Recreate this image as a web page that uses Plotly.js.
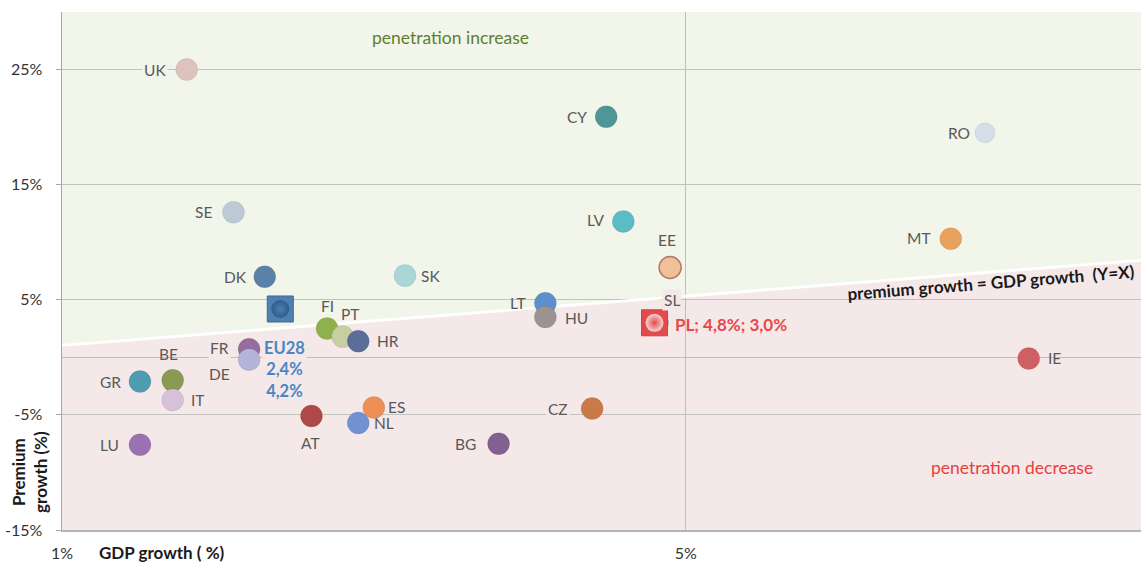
<!DOCTYPE html>
<html>
<head>
<meta charset="utf-8">
<script src="https://cdn.plot.ly/plotly-3.0.1.min.js"></script>
<style>
  html, body { margin: 0; padding: 0; background: #ffffff; }
  #chart { width: 1141px; height: 565px; }
</style>
</head>
<body>
<div id="chart"></div>
<script>
// ---------------- DATA ----------------
const countries = ["UK","CY","RO","SE","LV","MT","EE","DK","SK","LT","HU","SL","FI","PT","HR","FR","DE","IE","GR","BE","IT","AT","ES","CZ","NL","BG","LU"];
const gdpGrowth = [1.80, 4.49, 6.92, 2.10, 4.60, 6.70, 4.90, 2.30, 3.20, 4.10, 4.10, 4.82, 2.70, 2.80, 2.90, 2.20, 2.20, 7.20, 1.50, 1.71, 1.71, 2.60, 3.00, 4.40, 2.90, 3.80, 1.50];
const premiumGrowth = [25.0, 20.9, 19.5, 12.6, 11.8, 10.3, 7.8, 7.0, 7.1, 4.7, 3.5, 3.0, 2.5, 1.8, 1.4, 0.7, -0.2, -0.1, -2.1, -2.0, -3.7, -5.1, -4.35, -4.45, -5.7, -7.5, -7.6];

const eu28Name = "EU28";
const eu28Gdp = [2.4];
const eu28Premium = [4.2];

const plName = "PL";
const plGdp = [4.8];
const plPremium = [3.0];

// line "premium growth = GDP growth (Y=X)" as drawn in the picture
const diagX = [1, 7.92];
const diagY = [1.04, 8.43];

const xRange = [1, 7.92];
const yRange = [-15, 30];
const xTicks = [1, 5];
const xTickText = ["1%", "5%"];
const yTicks = [-15, -5, 5, 15, 25];
const yTickText = ["-15%", "-5%", "5%", "15%", "25%"];

// ---------------- STYLE ----------------
const markerColors = {
  UK:"#DDC3BB", CY:"#4F9699", RO:"#D5DEE8", SE:"#BDCAD6", LV:"#5ABCC6", MT:"#E9A15E",
  EE:"#F0C096", DK:"#5A82A8", SK:"#A9D7D8", LT:"#5C90CC", HU:"#9B9292", SL:"#9AA0A8",
  FI:"#8FB04E", PT:"#C7CFA2", HR:"#5B6E97", FR:"#986C9E", DE:"#B3B4D9", IE:"#CF5F62",
  GR:"#4D9CB1", BE:"#8B9A52", IT:"#D7C1D9", AT:"#AF4848", ES:"#EC9057", CZ:"#C97A48",
  NL:"#7291D0", BG:"#826091", LU:"#9A72B1"
};
// [xanchor, xshift, yshift(px, up positive), bg]
const labelSpec = {
  UK:["right",-19,0,true], CY:["right",-17,0,false], RO:["right",-13,0,false], SE:["right",-20,0,false],
  LV:["right",-16,2,false], MT:["right",-18,1,false], EE:["center",-3,28,false], DK:["right",-16,0,false],
  SK:["left",14,0,false], LT:["right",-17,0,false], HU:["left",18,-1,false], SL:["center",14,23,true],
  FI:["center",0,23,false], PT:["center",7,23,false], HR:["left",17,0,false], FR:["right",-18,1,true],
  DE:["right",-17,-14,false], IE:["left",17,0,false], GR:["right",-17,0,false], BE:["center",-4,26,false],
  IT:["left",16,0,false], AT:["center",-1,-27,false], ES:["left",12,0,false], CZ:["right",-22,0,true],
  NL:["left",14,0,false], BG:["right",-21,0,false], LU:["right",-19,0,false]
};
const greenBg = "#F1F5EA";
const pinkBg = "#F5E8E9";
const labelFont = {family: "Lato, 'Open Sans', sans-serif", size: 15.5, color: "#595959"};

function diagAt(x) {
  return diagY[0] + (diagY[1] - diagY[0]) * (x - diagX[0]) / (diagX[1] - diagX[0]);
}

// ---------------- TRACES ----------------
const traces = [];
traces.push({
  type: "scatter", mode: "lines", x: diagX, y: diagY,
  line: {color: "#FFFFFF", width: 2.8}, hoverinfo: "skip", showlegend: false
});
traces.push({
  type: "scatter", mode: "markers",
  x: gdpGrowth, y: premiumGrowth, text: countries,
  marker: {
    size: countries.map(c => c === "RO" ? 20 : 22),
    color: countries.map(c => markerColors[c]),
    line: {color: countries.map(c => c === "EE" ? "#B07A6A" : "rgba(0,0,0,0.12)"), width: countries.map(c => c === "EE" ? 1.5 : 0.6)},
    opacity: 1
  },
  hoverinfo: "text", showlegend: false
});
// EU28: blue square with darker round core
traces.push({
  type: "scatter", mode: "markers", x: eu28Gdp, y: eu28Premium, text: [eu28Name],
  marker: {symbol: "square", size: 26, color: "#4E80B2", line: {color: "#3A6894", width: 1}},
  hoverinfo: "text", showlegend: false
});
traces.push({
  type: "scatter", mode: "markers", x: eu28Gdp, y: eu28Premium, hoverinfo: "skip",
  marker: {symbol: "circle", size: 18, color: "#2E5C88", gradient: {type: "radial", color: "#4E80B2"}, line: {width: 0}},
  showlegend: false
});
// PL: red square with light round core
traces.push({
  type: "scatter", mode: "markers", x: plGdp, y: plPremium, text: [plName],
  marker: {symbol: "square", size: 26, color: "#E24A4C", line: {color: "#D24044", width: 1}},
  hoverinfo: "text", showlegend: false
});
traces.push({
  type: "scatter", mode: "markers", x: plGdp, y: plPremium, hoverinfo: "skip",
  marker: {symbol: "circle", size: 18, color: "#F7D2D2", gradient: {type: "radial", color: "#E24A4C"}, line: {width: 0}},
  showlegend: false
});

// ---------------- ANNOTATIONS ----------------
const annotations = [];
countries.forEach((c, i) => {
  const s = labelSpec[c];
  const above = premiumGrowth[i] > diagAt(gdpGrowth[i]);
  annotations.push({
    x: gdpGrowth[i], y: premiumGrowth[i], xref: "x", yref: "y",
    text: c, showarrow: false, xanchor: s[0], yanchor: "middle",
    xshift: s[1], yshift: s[2], font: labelFont,
    bgcolor: s[3] ? (above ? greenBg : pinkBg) : "rgba(0,0,0,0)", borderpad: 1
  });
});
annotations.push({
  x: eu28Gdp[0], y: eu28Premium[0], xref: "x", yref: "y",
  text: "<b>" + eu28Name + "<br>" + eu28Gdp[0].toFixed(1).replace(".", ",") + "%<br>" + eu28Premium[0].toFixed(1).replace(".", ",") + "%</b>",
  showarrow: false, xanchor: "center", yanchor: "middle", xshift: 4, yshift: -61,
  font: {family: "Lato, sans-serif", size: 16.5, color: "#4A86C4"}, bgcolor: pinkBg
});
annotations.push({
  x: plGdp[0], y: plPremium[0], xref: "x", yref: "y",
  text: "<b>" + plName + "; " + plGdp[0].toFixed(1).replace(".", ",") + "%; " + plPremium[0].toFixed(1).replace(".", ",") + "%</b>",
  showarrow: false, xanchor: "left", yanchor: "middle", xshift: 18, yshift: -2,
  font: {family: "Lato, sans-serif", size: 17, color: "#E8484A"}
});
annotations.push({
  x: 0.3605, y: 0.950, xref: "paper", yref: "paper", text: "penetration increase",
  showarrow: false, xanchor: "center", yanchor: "middle",
  font: {family: "Lato, sans-serif", size: 17.5, color: "#5E7F2E"}
});
annotations.push({
  x: 0.8804, y: 0.1197, xref: "paper", yref: "paper", text: "penetration decrease",
  showarrow: false, xanchor: "center", yanchor: "middle",
  font: {family: "Lato, sans-serif", size: 17.5, color: "#E8403C"}
});
annotations.push({
  x: 0.861, y: 0.4787, xref: "paper", yref: "paper", text: "<b>premium growth = GDP growth  (Y=X)</b>",
  showarrow: false, xanchor: "center", yanchor: "middle", textangle: -4.5,
  font: {family: "Lato, sans-serif", size: 17, color: "#1A1A1A"}
});
annotations.push({
  x: -0.0297, y: 0.112, xref: "paper", yref: "paper", text: "<b>Premium<br>growth (%)</b>",
  showarrow: false, xanchor: "center", yanchor: "middle", textangle: -90,
  font: {family: "Lato, sans-serif", size: 17, color: "#1A1A1A"}
});
annotations.push({
  x: 0.0927, y: -0.0444, xref: "paper", yref: "paper", text: "<b>GDP growth ( %)</b>",
  showarrow: false, xanchor: "center", yanchor: "middle",
  font: {family: "Lato, sans-serif", size: 17, color: "#1A1A1A"}
});

// ---------------- SHAPES (regions) ----------------
const greenPath = `M ${diagX[0]} ${diagY[0]} L ${diagX[1]} ${diagY[1]} L ${xRange[1]} ${yRange[1]} L ${xRange[0]} ${yRange[1]} Z`;
const pinkPath = `M ${xRange[0]} ${yRange[0]} L ${xRange[1]} ${yRange[0]} L ${diagX[1]} ${diagY[1]} L ${diagX[0]} ${diagY[0]} Z`;
const shapes = [
  {type: "path", path: greenPath, xref: "x", yref: "y", fillcolor: greenBg, line: {width: 0}, layer: "below"},
  {type: "path", path: pinkPath, xref: "x", yref: "y", fillcolor: pinkBg, line: {width: 0}, layer: "below"}
];

const layout = {
  width: 1141, height: 565,
  margin: {l: 62, r: 0, t: 12, b: 35, pad: 0},
  paper_bgcolor: "#FFFFFF", plot_bgcolor: "#FFFFFF",
  showlegend: false,
  font: {family: "Lato, 'Open Sans', sans-serif", color: "#333333"},
  xaxis: {
    range: xRange, tickmode: "array", tickvals: xTicks, ticktext: xTickText,
    showgrid: true, gridcolor: "#BEBEBE", gridwidth: 1,
    zeroline: false, showline: true, linecolor: "#B3B3B3", linewidth: 1.5,
    ticks: "", ticklabelstandoff: 8,
    tickfont: {family: "Lato, sans-serif", size: 16, color: "#333333"}
  },
  yaxis: {
    range: yRange, tickmode: "array", tickvals: yTicks, ticktext: yTickText,
    showgrid: true, gridcolor: "#C2C2BC", gridwidth: 1.2,
    zeroline: true, zerolinecolor: "#C2BDBD", zerolinewidth: 1.2,
    showline: true, linecolor: "#A6A6A6", linewidth: 1.5,
    ticks: "outside", ticklen: 5, tickcolor: "#A6A6A6", ticklabelstandoff: 10,
    tickfont: {family: "Lato, sans-serif", size: 16, color: "#333333"}
  },
  shapes: shapes,
  annotations: annotations
};

Plotly.newPlot("chart", traces, layout, {displayModeBar: false, staticPlot: true});
</script>
</body>
</html>
